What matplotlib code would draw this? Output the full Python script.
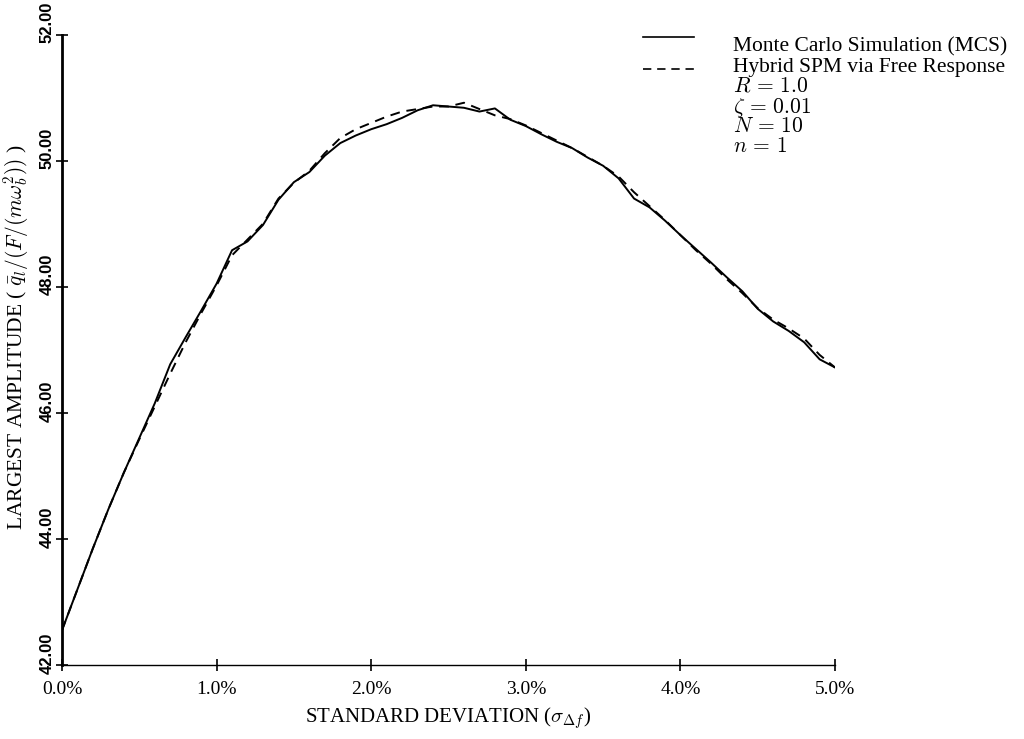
import matplotlib
matplotlib.use("Agg")
import matplotlib.pyplot as plt
import matplotlib.transforms as mtransforms

# standard deviation of mistuning (%)
sigma = [0.0, 0.1, 0.2, 0.3, 0.4, 0.5, 0.6, 0.7, 0.8, 0.9,
         1.0, 1.1, 1.2, 1.3, 1.4, 1.5, 1.6, 1.7, 1.8, 1.9,
         2.0, 2.1, 2.2, 2.3, 2.4, 2.5, 2.6, 2.7, 2.8, 2.9,
         3.0, 3.1, 3.2, 3.3, 3.4, 3.5, 3.6, 3.7, 3.8, 3.9,
         4.0, 4.1, 4.2, 4.3, 4.4, 4.5, 4.6, 4.7, 4.8, 4.9, 5.0]

mcs = [42.55, 43.20, 43.85, 44.47, 45.05, 45.60, 46.15, 46.77, 47.20, 47.62,
       48.05, 48.58, 48.72, 48.98, 49.38, 49.66, 49.82, 50.08, 50.28, 50.40,
       50.50, 50.58, 50.68, 50.80, 50.88, 50.86, 50.84, 50.78, 50.83, 50.65,
       50.55, 50.42, 50.30, 50.20, 50.05, 49.92, 49.72, 49.40, 49.26, 49.05,
       48.82, 48.60, 48.38, 48.15, 47.93, 47.65, 47.45, 47.30, 47.12, 46.85, 46.72]

hybrid = [42.55, 43.20, 43.85, 44.47, 45.05, 45.58, 46.10, 46.62, 47.12, 47.58,
          48.02, 48.50, 48.75, 49.00, 49.40, 49.65, 49.84, 50.12, 50.36, 50.50,
          50.60, 50.70, 50.78, 50.82, 50.86, 50.86, 50.92, 50.82, 50.72, 50.66,
          50.56, 50.44, 50.32, 50.20, 50.06, 49.92, 49.75, 49.50, 49.28, 49.06,
          48.82, 48.58, 48.36, 48.12, 47.90, 47.66, 47.48, 47.34, 47.18, 46.92, 46.72]

xticks = [0, 1, 2, 3, 4, 5]
xlabels = ["0.0%", "1.0%", "2.0%", "3.0%", "4.0%", "5.0%"]
yticks = [42, 44, 46, 48, 50, 52]
ylabels = ["42.00", "44.00", "46.00", "48.00", "50.00", "52.00"]

series_names = ["Monte Carlo Simulation (MCS)", "Hybrid SPM via Free Response"]
params = [r"$R\,=\,1.0$", r"$\zeta\,=\,0.01$", r"$N\,=\,10$", r"$n\,=\,1$"]

plt.rcParams["mathtext.fontset"] = "cm"
plt.rcParams["font.family"] = "Liberation Serif"

fig = plt.figure(figsize=(10.24, 7.39), dpi=100)
ax = fig.add_axes([0.0605, 0.1001, 0.755, 0.853])

ax.plot(sigma, mcs, color="black", lw=1.4, solid_joinstyle="round")
ax.plot(sigma, hybrid, color="black", lw=1.4, dashes=(5, 3.5))

ax.set_xlim(0, 5)
ax.set_ylim(42, 52)
ax.spines["top"].set_visible(False)
ax.spines["right"].set_visible(False)
ax.spines["left"].set_linewidth(2.0)
ax.spines["bottom"].set_linewidth(1.0)

ax.set_xticks(xticks)
ax.set_xticklabels(xlabels, fontsize=14)
ax.set_yticks(yticks)
ax.set_yticklabels(ylabels, rotation=90, va="center", fontsize=12,
                   family="Liberation Sans", fontweight="bold")
ax.tick_params(direction="inout", length=9, width=1.2)
ax.tick_params(axis="y", pad=0.5)
ax.tick_params(axis="x", pad=7)

# tick labels in the original sit a little above their ticks
shift = mtransforms.ScaledTranslation(0, 12 / 100, fig.dpi_scale_trans)
for lab in ax.get_yticklabels():
    lab.set_transform(lab.get_transform() + shift)

ax.set_xlabel(r"STANDARD DEVIATION ($\sigma_{\Delta f}$)", fontsize=15, labelpad=5)
ax.set_ylabel(r"LARGEST AMPLITUDE ( $\bar{q}_l/(F/(m\omega_b^2))$ )", fontsize=15.5)
ax.yaxis.set_label_coords(-0.040, 0.52)

# legend drawn by hand like the original figure
ax.plot([3.76, 4.09], [51.97, 51.97], color="black", lw=1.2, clip_on=False)
ax.plot([3.76, 4.09], [51.45, 51.45], color="black", lw=1.2,
        dashes=(5, 3.5), clip_on=False)
for i, name in enumerate(series_names):
    fig.text(0.716, 0.936 - i * 0.027, name, fontsize=15.5, va="center")
for i, p in enumerate(params):
    fig.text(0.716, 0.882 - i * 0.027, p, fontsize=15.5, va="center")

fig.savefig("out.png", dpi=100)
